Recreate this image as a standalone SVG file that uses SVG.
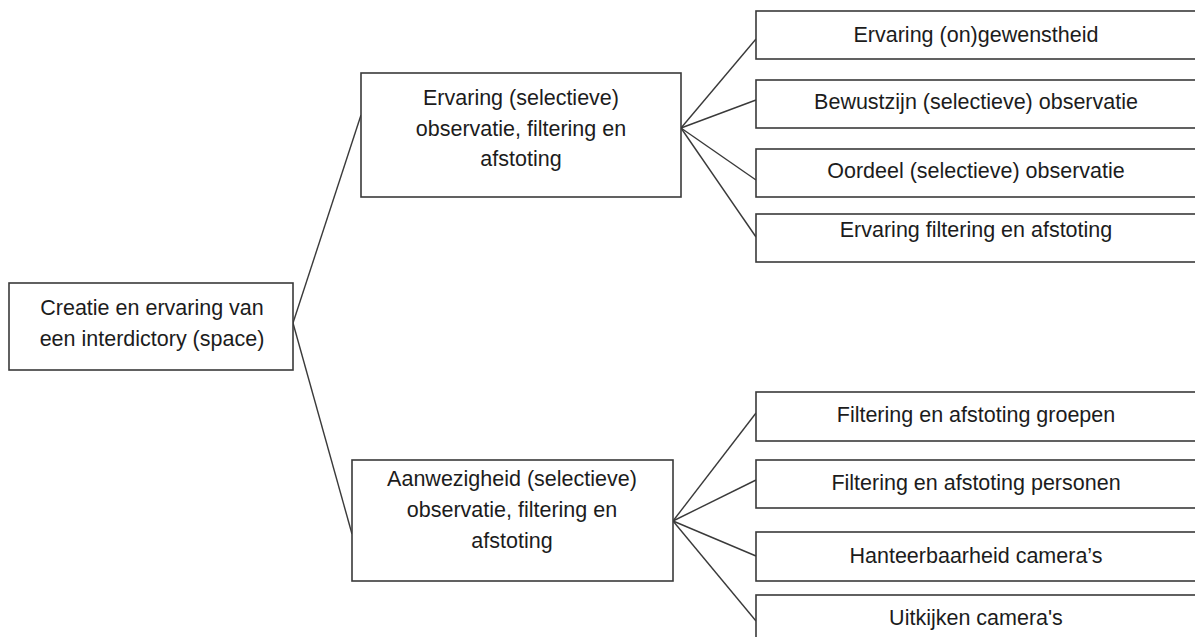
<svg xmlns="http://www.w3.org/2000/svg" width="1195" height="637" viewBox="0 0 1195 637">
<style>
.box{fill:#fff;stroke:#3a3a3a;stroke-width:1.6}
.lbl{font-family:"Liberation Sans",Arial,sans-serif;font-size:21.5px;fill:#1c1c1c;text-anchor:middle}
.con line{stroke:#3a3a3a;stroke-width:1.4}
</style>
<rect width="1195" height="637" fill="#fff"/>
<g id="connectors" class="con">
<line x1="293" y1="323" x2="361" y2="115"/>
<line x1="293" y1="323" x2="352" y2="534"/>
<line x1="681" y1="128" x2="756" y2="39"/>
<line x1="681" y1="128" x2="756" y2="100"/>
<line x1="681" y1="128" x2="756" y2="180"/>
<line x1="681" y1="128" x2="756" y2="237"/>
<line x1="673" y1="521" x2="756" y2="413"/>
<line x1="673" y1="521" x2="756" y2="480"/>
<line x1="673" y1="521" x2="756" y2="556"/>
<line x1="673" y1="521" x2="756" y2="621"/>
</g>
<g id="root">
<rect class="box" x="9" y="283" width="284" height="87"/>
<text class="lbl" x="152" y="315">Creatie en ervaring van</text>
<text class="lbl" x="152" y="346">een interdictory (space)</text>
</g>
<g id="ervaring">
<rect class="box" x="361" y="73" width="320" height="124"/>
<text class="lbl" x="521" y="105">Ervaring (selectieve)</text>
<text class="lbl" x="521" y="136">observatie, filtering en</text>
<text class="lbl" x="521" y="166">afstoting</text>
</g>
<g id="aanwezigheid">
<rect class="box" x="352" y="460" width="321" height="121"/>
<text class="lbl" x="512" y="486">Aanwezigheid (selectieve)</text>
<text class="lbl" x="512" y="517">observatie, filtering en</text>
<text class="lbl" x="512" y="548">afstoting</text>
</g>
<g id="t1">
<rect class="box" x="756" y="11" width="441" height="48"/>
<text class="lbl" x="976" y="42">Ervaring (on)gewenstheid</text>
</g>
<g id="t2">
<rect class="box" x="756" y="80" width="441" height="48"/>
<text class="lbl" x="976" y="109">Bewustzijn (selectieve) observatie</text>
</g>
<g id="t3">
<rect class="box" x="756" y="149" width="441" height="48"/>
<text class="lbl" x="976" y="178">Oordeel (selectieve) observatie</text>
</g>
<g id="t4">
<rect class="box" x="756" y="214" width="441" height="48"/>
<text class="lbl" x="976" y="237">Ervaring filtering en afstoting</text>
</g>
<g id="b1">
<rect class="box" x="756" y="392" width="441" height="49"/>
<text class="lbl" x="976" y="422">Filtering en afstoting groepen</text>
</g>
<g id="b2">
<rect class="box" x="756" y="460" width="441" height="48"/>
<text class="lbl" x="976" y="490">Filtering en afstoting personen</text>
</g>
<g id="b3">
<rect class="box" x="756" y="532" width="441" height="49"/>
<text class="lbl" x="976" y="563">Hanteerbaarheid camera’s</text>
</g>
<g id="b4">
<rect class="box" x="756" y="595" width="441" height="60"/>
<text class="lbl" x="976" y="625">Uitkijken camera's</text>
</g>
</svg>
